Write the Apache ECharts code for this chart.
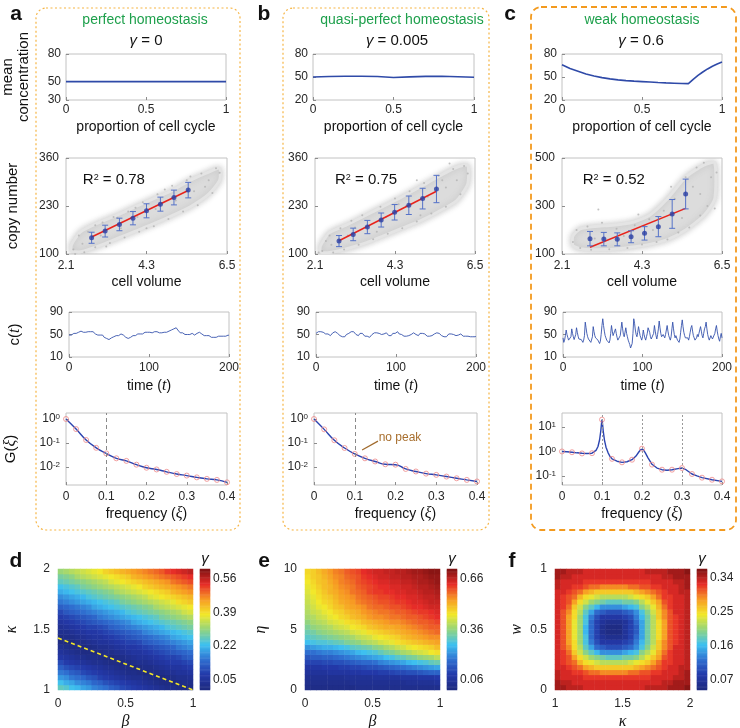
<!DOCTYPE html>
<html><head><meta charset="utf-8">
<script src="https://cdn.jsdelivr.net/npm/echarts@6/dist/echarts.min.js"></script>
<style>html,body{margin:0;padding:0;background:#fff}#c{width:740px;height:728px}</style>
</head><body><div id="c"></div><script>
// ---------------- DATA ----------------
// Row 1: mean concentration over cell cycle
const phaseA = [0, 1];
const meanA = [50, 50];
const phaseB = [0,0.1,0.2,0.3,0.4,0.5,0.6,0.7,0.8,0.9,1];
const meanB = [50,50.6,51,51,50.7,49.4,50.2,50.8,51,50.4,49.6];
const phaseC = [0,0.05,0.1,0.15,0.2,0.25,0.3,0.35,0.4,0.45,0.5,0.55,0.6,0.65,0.7,0.75,0.79,0.82,0.85,0.88,0.91,0.94,0.97,1];
const meanC = [66,61,57.5,54,51.3,49.2,47.6,46.3,45.3,44.6,44,43.4,42.8,42.3,41.9,41.5,41.3,47,52,56.5,60.5,64,67,69.5];

// Row 2: copy number vs cell volume
const volA = [2.80,3.17,3.56,3.93,4.30,4.68,5.05,5.44];
const copyA = [144,162,180,197,217,235,253,273];
const errA = [15,16,17,18,19,19,20,21];
const fitVolA = [2.80,5.44], fitCopyA = [146,272];
const cloudXA = [2.25,2.5,3,3.5,4,4.5,5,5.5,6,6.3];
const cloudLoA = [108,106,122,142,162,182,204,228,262,300];
const cloudHiA = [125,160,185,205,228,250,272,300,322,332];
const dotsA = [[2.3,112],[2.45,150],[2.6,105],[2.7,160],[2.9,118],[3.1,185],[3.3,130],[3.4,200],[3.7,145],[3.8,215],[4.1,160],[4.2,240],[4.5,175],[4.6,262],[4.9,195],[5.0,285],[5.3,215],[5.4,300],[5.7,232],[5.8,318],[6.0,300],[6.2,332],[6.1,265],[2.55,128],[3.05,150],[3.6,170],[4.05,200],[4.55,222],[5.1,245],[5.6,270],[2.35,100],[2.9,178],[3.5,198],[4.3,170],[4.8,275],[5.5,310],[6.3,320],[3.2,120],[4.0,225],[5.9,282]];

const volB = [2.76,3.15,3.54,3.92,4.29,4.68,5.06,5.44];
const copyB = [135,153,173,192,213,232,250,276];
const errB = [15,17,18,19,21,25,28,37];
const fitVolB = [2.76,5.44], fitCopyB = [136,270];
const cloudXB = [2.25,2.5,3,3.5,4,4.5,5,5.5,6,6.3];
const cloudLoB = [105,104,115,130,150,170,190,215,245,290];
const cloudHiB = [122,158,180,205,230,255,282,310,335,340];
const dotsB = [[2.3,108],[2.5,150],[2.6,104],[2.8,170],[2.9,112],[3.1,190],[3.3,125],[3.4,205],[3.7,140],[3.9,228],[4.1,155],[4.3,250],[4.5,170],[4.7,270],[4.9,188],[5.1,292],[5.3,210],[5.5,312],[5.7,228],[5.9,330],[6.1,262],[6.2,338],[6.0,300],[2.55,125],[3.0,150],[3.55,175],[4.05,200],[4.6,230],[5.2,255],[5.7,280],[2.4,135],[3.2,172],[3.8,160],[4.4,235],[5.0,205],[5.6,300],[6.3,318],[2.2,104],[4.9,300],[5.8,345]];

const volC = [2.87,3.25,3.62,4.00,4.37,4.75,5.13,5.50];
const copyC = [164,162,161,172,186,214,267,350];
const errC = [30,28,27,25,28,42,60,62];
const fitVolC = [2.87,5.50], fitCopyC = [128,290];
const cloudXC = [2.4,2.6,3,3.5,4,4.5,5,5.5,6,6.3];
const cloudLoC = [135,122,118,120,128,140,160,200,260,330];
const cloudHiC = [175,205,215,220,230,260,330,420,470,480];
const dotsC = [[2.4,150],[2.5,200],[2.6,125],[2.8,215],[2.9,118],[3.2,230],[3.4,120],[3.6,205],[3.9,125],[4.1,220],[4.3,140],[4.5,245],[4.7,150],[4.9,280],[5.0,160],[5.2,330],[5.3,190],[5.5,420],[5.6,210],[5.8,460],[5.9,260],[6.1,300],[6.3,290],[6.0,480],[5.7,380],[5.4,250],[4.6,200],[3.8,175],[3.0,165],[6.2,420],[3.1,285],[4.2,265],[5.1,380],[5.9,350],[6.35,440]];

// Row 3: concentration time series c(t), t = 0..200
const TA = [49,48,50,49,51,50,52,51,50,52,53,52,54,55,54,56,55,53,54,55,53,54,52,53,55,54,56,55,54,52,55,54,52,51,50,51,49,50,48,49,48,47,49,46,45,44,46,43,42,44,41,43,42,44,45,44,46,47,46,48,47,49,48,50,49,51,50,48,49,47,46,45,44,45,43,44,46,45,47,46,48,47,49,48,50,49,51,50,52,51,50,52,51,53,52,54,53,55,54,56,55,54,56,55,53,54,56,55,54,53,55,54,52,53,54,52,53,51,52,54,53,52,54,53,55,56,55,57,58,57,59,60,61,63,62,60,58,56,55,53,54,52,53,51,52,50,51,52,50,51,49,50,51,50,52,51,50,49,51,50,52,51,53,54,53,52,51,50,49,48,49,47,48,46,47,48,47,46,45,47,46,45,44,46,45,44,46,47,45,46,47,46,48,47,49,48,47,48,47,49,48];
const TB = [52,54,53,55,56,54,55,57,55,54,52,53,51,50,52,51,49,50,48,50,51,53,52,54,55,53,54,52,51,50,48,47,49,46,45,47,46,48,50,49,51,52,54,53,55,54,56,55,53,52,50,51,49,48,50,52,51,53,52,50,49,47,46,45,47,44,46,45,47,48,50,49,51,53,52,54,53,51,50,52,51,49,50,48,49,51,50,52,53,51,50,48,47,49,48,50,52,51,53,52,54,53,55,52,51,50,52,50,49,48,47,46,48,47,45,46,48,47,49,50,52,51,53,54,52,50,51,49,48,50,52,53,51,52,54,53,51,50,49,47,48,46,47,45,47,48,50,49,51,52,54,53,55,54,52,51,50,48,49,47,46,47,45,46,48,49,51,50,52,51,53,52,50,49,47,48,46,47,49,48,50,51,49,48,47,46,48,47,46,48,47,49,48,46,47,45,46,48,47,46,47];
const TC = [44,36,40,48,58,50,45,40,42,38,
46,60,52,46,41,44,50,62,54,47,
42,40,44,41,38,36,40,48,72,62,
52,46,42,45,40,36,38,46,64,55,
48,44,46,42,40,37,34,38,50,66,
78,66,56,48,44,40,43,38,35,40,
52,66,56,48,50,56,60,52,45,40,
38,42,48,60,72,60,50,46,54,62,
52,46,40,36,32,26,24,34,52,78,
70,58,50,46,54,64,56,48,44,40,
46,58,50,44,40,46,52,62,64,54,
46,42,40,44,52,66,56,48,42,50,
60,74,62,52,46,44,50,48,44,50,
58,66,56,48,44,40,46,60,72,60,
50,44,48,46,40,38,36,42,54,66,
76,64,54,48,44,42,46,44,40,46,
54,62,66,56,48,44,40,38,44,50,
46,52,58,64,56,48,44,52,60,64,
72,60,50,44,40,42,48,46,42,40,
44,52,60,66,56,48,42,38,46,52,
44];

// Row 4: power spectrum G(xi)
const freq = [0,0.025,0.05,0.075,0.1,0.125,0.15,0.175,0.2,0.225,0.25,0.275,0.3,0.325,0.35,0.375,0.4];
const GA = [1.0,0.38,0.133,0.063,0.037,0.023,0.018,0.0125,0.0093,0.0079,0.0063,0.0051,0.0044,0.0037,0.0032,0.0029,0.0023];
const GB = [1.0,0.37,0.13,0.062,0.035,0.023,0.017,0.013,0.0125,0.0083,0.0065,0.0053,0.0047,0.0040,0.0034,0.0029,0.0025];
const GC = [1.0,0.93,0.83,0.85,20,0.5,0.36,0.46,1.3,0.29,0.18,0.18,0.21,0.12,0.085,0.07,0.06];
const freqLineC = [0,0.0125,0.025,0.0375,0.05,0.0625,0.075,0.08,0.085,0.09,0.094,0.097,0.099,0.1,0.101,0.103,0.106,0.11,0.115,0.12,0.125,0.1375,0.15,0.1625,0.175,0.185,0.192,0.197,0.2,0.203,0.208,0.215,0.225,0.2375,0.25,0.2625,0.275,0.29,0.3,0.31,0.325,0.3375,0.35,0.375,0.4];
const GLineC = [1.0,0.97,0.93,0.88,0.84,0.82,0.85,0.9,1.1,1.6,3.0,7,15,20,15,7,3,1.5,0.9,0.62,0.5,0.4,0.36,0.38,0.46,0.65,0.95,1.2,1.3,1.2,0.9,0.55,0.3,0.21,0.18,0.17,0.18,0.2,0.21,0.18,0.12,0.1,0.085,0.07,0.06];

// Row 5: gamma maps (values x100) on 24x24 cells, rows bottom->top, columns left->right
const HD = [
[26,25,23,22,20,19,17,16,15,13,12,10,9,8,7,6,5,4,3,2,2,1,0,1],
[23,21,20,18,17,16,14,13,11,10,9,8,7,6,5,4,3,2,1,1,0,1,2,2],
[19,18,16,15,14,12,11,9,8,7,6,5,4,3,3,2,1,0,0,1,2,3,3,4],
[16,15,13,12,10,9,8,7,6,5,4,3,2,2,1,0,1,1,2,3,4,5,5,6],
[13,11,10,9,8,7,6,5,4,3,2,1,1,0,1,2,2,3,4,5,6,6,7,8],
[10,8,7,6,5,4,3,3,2,1,1,0,1,2,3,3,4,5,6,7,8,8,9,10],
[7,6,5,4,3,2,2,1,0,0,1,2,3,4,5,5,6,7,8,9,9,10,12,13],
[5,4,3,2,1,1,0,1,2,2,3,4,5,6,6,7,8,9,10,11,12,13,14,15],
[3,2,1,1,0,1,2,3,3,4,5,6,7,7,8,9,10,11,12,13,14,16,17,18],
[1,0,0,1,2,3,4,5,5,6,7,8,9,9,10,12,13,14,15,16,17,18,19,20],
[1,2,2,3,4,5,6,6,7,8,9,10,11,12,13,14,15,16,17,18,20,21,22,23],
[3,3,4,5,6,7,7,8,9,10,11,12,13,14,15,17,18,19,20,21,22,23,24,25],
[4,5,6,7,8,9,9,10,11,13,14,15,16,17,18,19,20,21,22,24,25,26,27,28],
[6,7,8,9,10,11,12,13,14,15,16,17,18,20,21,22,23,24,25,26,27,28,29,30],
[8,9,10,11,12,13,14,16,17,18,19,20,21,22,23,24,25,26,28,29,30,31,32,33],
[10,12,13,14,15,16,17,18,19,20,21,22,24,25,26,27,28,29,30,31,32,33,35,36],
[13,14,15,16,17,18,20,21,22,23,24,25,26,27,28,29,30,32,33,34,35,36,37,38],
[16,17,18,19,20,21,22,23,24,25,26,28,29,30,31,32,33,34,35,36,37,39,40,41],
[18,19,20,21,22,24,25,26,27,28,29,30,31,32,33,34,36,37,38,39,40,41,42,43],
[21,22,23,24,25,26,27,28,29,30,32,33,34,35,36,37,38,39,40,41,43,44,45,46],
[23,24,25,26,28,29,30,31,32,33,34,35,36,37,38,40,41,42,43,44,45,46,47,48],
[26,27,28,29,30,31,32,33,34,36,37,38,39,40,41,42,43,44,45,46,48,49,50,51],
[28,29,30,32,33,34,35,36,37,38,39,40,41,43,44,45,46,47,48,49,50,51,52,53],
[31,32,33,34,35,36,37,38,40,41,42,43,44,45,46,47,48,49,50,52,53,54,55,56]];
const dLineBeta = [0, 1];
const dLineKappa = [1.43, 1.0];
const HE = [
[2,2,2,2,2,2,2,2,2,3,3,3,3,3,3,3,3,3,3,3,3,3,3,3],
[3,3,3,3,3,3,3,3,4,4,4,4,4,4,4,4,4,4,5,5,5,5,5,6],
[4,4,4,4,4,4,4,5,5,5,5,5,6,6,6,6,6,7,7,7,8,8,8,9],
[6,6,6,6,7,7,7,7,8,8,9,9,9,10,10,11,12,12,13,13,14,15,16,16],
[8,8,8,9,9,9,10,10,11,11,12,13,13,14,15,16,17,18,19,20,21,22,23,24],
[11,11,11,12,12,13,13,14,15,16,17,17,18,20,21,22,23,24,26,27,28,29,31,32],
[14,15,15,16,16,17,18,19,20,21,22,23,24,25,27,28,30,31,33,34,36,37,38,40],
[18,18,19,20,20,21,22,23,24,26,27,28,29,31,33,34,36,38,39,41,42,43,45,46],
[22,23,24,25,25,26,27,28,30,31,32,33,35,36,38,39,41,42,44,45,46,47,48,50],
[27,28,29,29,30,31,32,34,35,36,38,39,40,42,43,44,46,47,48,49,50,51,52,53],
[30,31,32,33,34,35,36,37,38,40,41,42,44,45,46,47,48,50,51,52,53,54,55,55],
[32,33,35,36,37,38,39,40,42,43,44,46,47,48,49,50,51,52,53,54,55,56,57,58],
[34,36,37,38,39,41,42,43,45,46,47,49,50,51,52,52,53,54,55,56,57,58,59,59],
[36,38,39,40,42,43,44,46,47,48,50,51,52,53,54,55,55,56,57,58,59,59,60,61],
[38,39,41,42,44,45,47,48,50,51,52,54,55,55,56,57,57,58,59,59,60,61,62,63],
[39,41,42,44,45,47,48,50,51,52,54,55,56,57,57,58,59,59,60,61,62,62,63,64],
[40,42,44,45,47,49,50,52,53,54,55,57,58,58,59,60,60,61,62,63,63,64,65,65],
[41,43,45,47,48,50,52,53,54,56,57,58,59,60,60,61,62,62,63,64,64,65,66,66],
[42,44,46,48,49,51,53,54,55,57,58,59,60,61,61,62,63,63,64,64,65,66,66,67],
[43,45,47,49,51,52,54,55,57,58,59,61,62,62,63,63,64,64,65,65,66,67,67,68],
[44,46,48,50,51,53,55,56,57,59,60,61,62,63,63,64,64,65,65,66,67,67,68,69],
[45,47,49,50,52,54,56,57,58,60,61,62,63,64,64,65,65,66,66,67,68,68,69,70],
[46,48,49,51,53,55,56,58,59,60,62,63,64,65,65,66,66,67,67,68,68,69,70,70],
[47,48,50,52,54,56,57,59,60,61,63,64,65,65,66,66,67,67,68,69,69,70,71,71]];
const HF = [
[35,35,34,34,34,33,33,33,33,33,33,33,33,33,33,33,34,34,34,34,35,35,35,36],
[35,34,34,33,33,33,33,33,33,33,33,33,33,33,33,33,33,33,33,34,34,35,35,35],
[34,33,33,33,33,32,32,32,32,32,32,32,32,32,32,32,32,33,33,33,33,34,34,35],
[34,33,33,32,32,31,30,30,29,29,29,29,29,30,30,31,31,32,32,33,33,33,34,35],
[33,33,32,31,30,28,27,26,26,26,26,26,26,26,27,28,29,30,31,32,33,33,34,34],
[33,32,31,30,27,25,24,23,22,22,22,22,22,23,24,25,26,28,30,32,32,33,33,34],
[33,32,31,28,25,23,21,20,19,18,18,18,19,19,20,22,24,26,28,31,32,33,33,34],
[33,32,30,26,23,20,18,16,14,14,14,14,15,16,17,20,22,24,27,30,32,33,33,34],
[33,31,29,25,22,18,15,12,11,10,10,10,11,12,14,17,20,23,26,29,31,33,33,34],
[33,31,28,25,21,17,13,10,8,8,8,8,9,10,13,16,19,22,26,29,31,32,33,34],
[33,31,28,24,21,17,12,9,7,6,6,6,7,9,12,15,19,22,25,28,31,32,33,34],
[33,31,28,24,21,16,12,9,6,5,5,5,7,9,11,15,19,22,25,28,31,32,33,34],
[33,31,28,24,21,16,12,9,6,5,5,5,7,9,11,15,19,22,25,28,31,32,33,34],
[33,31,28,24,21,17,12,9,7,6,6,6,7,9,12,15,19,22,25,28,31,32,33,34],
[33,31,28,25,21,17,13,10,8,8,8,8,9,10,13,16,19,22,26,29,31,32,33,34],
[33,31,29,25,22,18,15,12,11,10,10,10,11,12,14,17,20,23,26,29,31,33,33,34],
[33,32,30,26,23,20,18,16,14,14,14,14,15,16,17,20,22,24,27,30,32,33,33,34],
[33,32,31,28,25,23,21,20,19,18,18,18,19,19,20,22,24,26,28,31,32,33,33,34],
[33,32,31,30,27,25,24,23,22,22,22,22,22,23,24,25,26,28,30,32,32,33,33,34],
[33,33,32,31,30,28,27,26,26,26,26,26,26,26,27,28,29,30,31,32,33,33,34,34],
[34,33,33,32,32,31,30,30,29,29,29,29,29,30,30,31,31,32,32,33,33,33,34,35],
[34,33,33,33,33,32,32,32,32,32,32,32,32,32,32,32,32,33,33,33,33,34,34,35],
[35,34,34,33,33,33,33,33,33,33,33,33,33,33,33,33,33,33,33,34,34,35,35,35],
[35,35,34,34,34,33,33,33,33,33,33,33,33,33,33,33,34,34,34,34,35,35,35,36]];
const cbTicksD = [0.05,0.22,0.39,0.56], cbRangeD = [0, 0.607];
const cbTicksE = [0.06,0.36,0.66], cbRangeE = [0, 0.72];
const cbTicksF = [0.07,0.16,0.25,0.34], cbRangeF = [0.044, 0.364];

// ---------------- STYLE / BUILD ----------------
const JET = ['#1e2a7e','#2338a8','#2f6fd0','#3ec0f0','#92d47e','#f2e82a','#f79a23','#e62c28','#7e1212'];
const FONT = "'Liberation Sans', Arial, sans-serif";
const SERIF = "'Liberation Serif', 'DejaVu Serif', serif";
const BLUE = '#2f4aa8';
const SUP = {s: {fontSize: 8, verticalAlign: 'top', fontFamily: FONT}};
const NRICH = {i: {fontStyle: 'italic', fontFamily: SERIF, fontSize: 16}};

const grids = [], xAxes = [], yAxes = [], series = [], visualMaps = [];
function addGrid(g) {
  grids.push(Object.assign({show: true, borderColor: '#c2c2c2', borderWidth: 1, outerBoundsMode: 'none', containLabel: false}, g));
  return grids.length - 1;
}
function axis(gi, min, max, ticks, o) {
  o = o || {};
  const a = {
    type: o.type || 'value', gridIndex: gi, min: min, max: max,
    axisLine: {show: false},
    axisTick: {show: o.tick !== false, inside: true, length: 3, lineStyle: {color: '#8c8c8c'}, customValues: ticks},
    axisLabel: {show: o.label !== false, customValues: ticks, fontSize: 12, color: '#262626', fontFamily: FONT, margin: o.margin != null ? o.margin : 5, rich: SUP},
    splitLine: {show: false},
    name: o.name || '', nameLocation: 'middle', nameGap: o.gap || 20, nameMoveOverlap: false,
    nameTextStyle: {fontSize: o.nameSize || 14, color: '#111', fontFamily: FONT, rich: NRICH, lineHeight: o.lh}
  };
  if (o.fmt) a.axisLabel.formatter = o.fmt;
  if (o.rot != null) a.nameRotate = o.rot;
  if (o.position) a.position = o.position;
  if (o.type === 'log') a.logBase = 10;
  return a;
}
function addX(a) { xAxes.push(a); return xAxes.length - 1; }
function addY(a) { yAxes.push(a); return yAxes.length - 1; }
const zip = (xs, ys) => xs.map((x, i) => [x, ys[i]]);
const logFmt = v => '10{s|' + Math.round(Math.log10(v)) + '}';

const colL = [66, 313, 562];
// Row 1
[[phaseA, meanA, [30,50,80]], [phaseB, meanB, [20,50,80]], [phaseC, meanC, [20,50,80]]].forEach((d, k) => {
  const gi = addGrid({left: colL[k], top: 54, width: k === 1 ? 161 : 160, height: 46});
  const xi = addX(axis(gi, 0, 1, [0, 0.5, 1], {name: 'proportion of cell cycle', gap: 20, margin: 4, position: 'bottom'}));
  const yi = addY(axis(gi, d[2][0], 80, d[2], k === 0 ? {name: 'mean\nconcentration', gap: 34, nameSize: 15, lh: 16, rot: 90, position: 'left'} : {position: 'left'}));
  series.push({type: 'line', xAxisIndex: xi, yAxisIndex: yi, data: zip(d[0], d[1]), symbol: 'none', lineStyle: {color: BLUE, width: 1.6}, silent: true});
});

// Row 2
const row2 = [
  {L: 66, W: 161, vol: volA, copy: copyA, err: errA, fv: fitVolA, fc: fitCopyA, cx: cloudXA, lo: cloudLoA, hi: cloudHiA, dots: dotsA, yt: [100,230,360], r2: '0.78', r2pos: [2.56, 300]},
  {L: 315, W: 160, vol: volB, copy: copyB, err: errB, fv: fitVolB, fc: fitCopyB, cx: cloudXB, lo: cloudLoB, hi: cloudHiB, dots: dotsB, yt: [100,230,360], r2: '0.75', r2pos: [2.65, 300]},
  {L: 562, W: 160, vol: volC, copy: copyC, err: errC, fv: fitVolC, fc: fitCopyC, cx: cloudXC, lo: cloudLoC, hi: cloudHiC, dots: dotsC, yt: [100,300,500], r2: '0.52', r2pos: [2.67, 408]}
];
row2.forEach((p, k) => {
  const gi = addGrid({left: p.L, top: 158, width: p.W, height: 96});
  const xi = addX(axis(gi, 2.1, 6.5, [2.1, 4.3, 6.5], {name: 'cell volume', gap: 21, margin: 6, position: 'bottom'}));
  const yi = addY(axis(gi, p.yt[0], p.yt[2], p.yt, k === 0 ? {name: 'copy number', gap: 46, nameSize: 15, margin: 7, rot: 90, position: 'left'} : {margin: 7, position: 'left'}));
  series.push({type: 'custom', xAxisIndex: xi, yAxisIndex: yi, z: 1, silent: true, clip: true,
    data: p.cx.map((x, i) => [x, p.lo[i], p.hi[i]]), encode: {x: 0, y: [1, 2]},
    renderItem: (params, api) => {
      if (params.dataIndex !== 0) return null;
      const pts = [];
      p.cx.forEach((x, i) => pts.push(api.coord([x, p.hi[i]])));
      for (let i = p.cx.length - 1; i >= 0; i--) pts.push(api.coord([p.cx[i], p.lo[i]]));
      return {type: 'polygon', shape: {points: pts, smooth: 0.2}, style: {fill: '#dcdcdc', stroke: '#e4e4e4', lineWidth: 3, shadowBlur: 6, shadowColor: 'rgba(190,190,190,0.9)'}};
    }});
  series.push({type: 'scatter', xAxisIndex: xi, yAxisIndex: yi, z: 2, silent: true, data: p.dots, symbolSize: 2, itemStyle: {color: '#b3b3b3'}});
  series.push({type: 'line', xAxisIndex: xi, yAxisIndex: yi, z: 3, silent: true, data: zip(p.fv, p.fc), symbol: 'none', lineStyle: {color: '#e8231b', width: 1.5}});
  series.push({type: 'custom', xAxisIndex: xi, yAxisIndex: yi, z: 4, silent: true,
    data: p.vol.map((v, i) => [v, p.copy[i] - p.err[i], p.copy[i] + p.err[i]]), encode: {x: 0, y: [1, 2]},
    renderItem: (params, api) => {
      const x = api.value(0);
      const lo = api.coord([x, api.value(1)]), hi = api.coord([x, api.value(2)]);
      const st = {stroke: '#5572c8', lineWidth: 1};
      return {type: 'group', children: [
        {type: 'line', shape: {x1: lo[0], y1: lo[1], x2: hi[0], y2: hi[1]}, style: st},
        {type: 'line', shape: {x1: lo[0] - 3, y1: lo[1], x2: lo[0] + 3, y2: lo[1]}, style: st},
        {type: 'line', shape: {x1: hi[0] - 3, y1: hi[1], x2: hi[0] + 3, y2: hi[1]}, style: st}
      ]};
    }});
  series.push({type: 'scatter', xAxisIndex: xi, yAxisIndex: yi, z: 5, silent: true, data: zip(p.vol, p.copy), symbolSize: 5, itemStyle: {color: '#2a3fa3'},
    markPoint: {symbol: 'circle', symbolSize: 0, silent: true, data: [{coord: p.r2pos, label: {show: true, position: 'right', distance: 0, formatter: 'R{s|2} = ' + p.r2, fontSize: 15, color: '#111', fontFamily: FONT, rich: {s: {fontSize: 9, verticalAlign: 'top', fontFamily: FONT}}}}]}});
});

// Row 3
[[TA, 69, 160], [TB, 316, 160], [TC, 563, 159]].forEach((d, k) => {
  const gi = addGrid({left: d[1], top: 312, width: d[2], height: 45});
  const xi = addX(axis(gi, 0, 200, [0, 100, 200], {name: 'time ({i|t})', gap: 21, margin: 5, position: 'bottom'}));
  const yi = addY(axis(gi, 10, 90, [10, 50, 90], k === 0 ? {name: 'c({i|t})', gap: 46, nameSize: 15, margin: 6, rot: 90, position: 'left'} : {margin: 6, position: 'left'}));
  series.push({type: 'line', xAxisIndex: xi, yAxisIndex: yi, data: d[0].map((v, i) => [i, v]), symbol: 'none', lineStyle: {color: '#3552ad', width: 0.9}, silent: true});
});

// Row 4
const row4 = [
  {L: 66, W: 161, G: GA, min: 0.00178, max: 1.778, t: [0.01, 0.1, 1]},
  {L: 314, W: 163, G: GB, min: 0.00178, max: 1.778, t: [0.01, 0.1, 1]},
  {L: 562, W: 160, G: GC, min: 0.0427, max: 37.2, t: [0.1, 1, 10]}
];
row4.forEach((p, k) => {
  const gi = addGrid({left: p.L, top: 413, width: p.W, height: 72});
  const xi = addX(axis(gi, 0, 0.4, [0, 0.1, 0.2, 0.3, 0.4], {name: 'frequency ({i|ξ})', gap: 21, margin: 6, position: 'bottom'}));
  const yi = addY(axis(gi, p.min, p.max, p.t, Object.assign({type: 'log', fmt: logFmt, margin: 6, position: 'left'}, k === 0 ? {name: 'G({i|ξ})', gap: 47, nameSize: 15, rot: 90} : {})));
  const lineData = k === 2 ? zip(freqLineC, GLineC) : zip(freq, p.G);
  const blue = {type: 'line', xAxisIndex: xi, yAxisIndex: yi, z: 3, silent: true, data: lineData, symbol: 'none', smooth: k === 2 ? false : true, lineStyle: {color: '#2b44b0', width: 1.4}};
  if (k === 1) {
    blue.markLine = {silent: true, symbol: ['none', 'arrow'], symbolSize: [0, 7], lineStyle: {color: '#a06a2c', width: 1.2, type: 'solid'}, label: {show: false},
      data: [[{coord: [0.157, 0.12]}, {coord: [0.118, 0.051]}]]};
    blue.markPoint = {symbol: 'circle', symbolSize: 0, silent: true, data: [{coord: [0.211, 0.16], label: {show: true, position: 'inside', formatter: 'no peak', color: '#a86f2e', fontSize: 12, fontFamily: FONT}}]};
  }
  series.push(blue);
  const ml = k === 2
    ? {silent: true, symbol: 'none', label: {show: false}, lineStyle: {color: '#9a9a9a', type: [2, 2], width: 1}, data: [{xAxis: 0.1}, {xAxis: 0.2}, {xAxis: 0.3}]}
    : {silent: true, symbol: 'none', label: {show: false}, lineStyle: {color: '#8a8a8a', type: [4, 3], width: 1}, data: [{xAxis: 0.1}]};
  series.push({type: 'scatter', xAxisIndex: xi, yAxisIndex: yi, z: 4, silent: true, data: zip(freq, p.G), symbol: 'circle', symbolSize: 5,
    itemStyle: {color: 'rgba(0,0,0,0)', borderColor: '#ef8a8a', borderWidth: 1}, markLine: ml});
});

// Row 5: heatmaps
const idx24 = [...Array(24).keys()];
const idx100 = [...Array(100).keys()];
const heat = [
  {L: 58, cb: 200, H: HD, xr: [0, 1], xt: [0, 0.5, 1], yr: [1, 2], yt: [1, 1.5, 2], xn: 'β', yn: 'κ', ygap: 38, cbt: cbTicksD, cbr: cbRangeD},
  {L: 305, cb: 447, H: HE, xr: [0, 1], xt: [0, 0.5, 1], yr: [0, 10], yt: [0, 5, 10], xn: 'β', yn: 'η', ygap: 36, cbt: cbTicksE, cbr: cbRangeE},
  {L: 555, cb: 697, H: HF, xr: [1, 2], xt: [1, 1.5, 2], yr: [0, 1], yt: [0, 0.5, 1], xn: 'κ', yn: 'w', ygap: 30, cbt: cbTicksF, cbr: cbRangeF}
];
heat.forEach((p, k) => {
  const gi = addGrid({left: p.L, top: 569, width: 135, height: 121, show: false});
  const xc = addX({type: 'category', gridIndex: gi, data: idx24, show: false, position: 'top'});
  const yc = addY({type: 'category', gridIndex: gi, data: idx24, show: false, position: 'right'});
  const xv = addX(axis(gi, p.xr[0], p.xr[1], p.xt, {name: p.xn, gap: 24, margin: 8, tick: false, nameSize: 16, position: 'bottom'}));
  const yv = addY(axis(gi, p.yr[0], p.yr[1], p.yt, {name: p.yn, gap: p.ygap, margin: 8, tick: false, nameSize: 16, rot: 90, position: 'left'}));
  xAxes[xv].nameTextStyle.fontStyle = 'italic'; xAxes[xv].nameTextStyle.fontFamily = SERIF;
  yAxes[yv].nameTextStyle.fontStyle = 'italic'; yAxes[yv].nameTextStyle.fontFamily = SERIF;
  const data = [];
  p.H.forEach((row, j) => row.forEach((v, i) => data.push([i, j, v / 100])));
  const sHeat = series.length;
  series.push({type: 'heatmap', xAxisIndex: xc, yAxisIndex: yc, data: data, silent: true, progressive: 0, emphasis: {disabled: true}});
  if (k === 0) {
    series.push({type: 'line', xAxisIndex: xv, yAxisIndex: yv, z: 5, silent: true, data: zip(dLineBeta, dLineKappa), symbol: 'none', lineStyle: {color: '#f4e826', width: 1.6, type: [4, 3]}});
  }
  // colour bar
  const cg = addGrid({left: p.cb, top: 569, width: 10, height: 121, show: false});
  const cx = addX({type: 'category', gridIndex: cg, data: [0], show: false, position: 'bottom'});
  const cy = addY({type: 'category', gridIndex: cg, data: idx100, show: false, position: 'left'});
  addY(axis(cg, p.cbr[0], p.cbr[1], p.cbt, {position: 'right', tick: false, margin: 3, fmt: v => v.toFixed(2)}));
  const sCb = series.length;
  series.push({type: 'heatmap', xAxisIndex: cx, yAxisIndex: cy, silent: true, progressive: 0, emphasis: {disabled: true},
    data: idx100.map(i => [0, i, p.cbr[0] + (i + 0.5) / 100 * (p.cbr[1] - p.cbr[0])])});
  visualMaps.push({type: 'continuous', show: false, min: p.cbr[0], max: p.cbr[1], seriesIndex: [sHeat, sCb], dimension: 2, inRange: {color: JET}});
});

// ---------------- DECORATION ----------------
const txt = (x, y, text, o) => ({type: 'text', x: x, y: y, silent: true, style: Object.assign({text: text, fontFamily: FONT, fontSize: 14, fill: '#111', align: 'center', verticalAlign: 'middle'}, o || {})});
const GREEN = '#1ea04c';
const graphics = [
  {type: 'rect', silent: true, shape: {x: 36, y: 8, width: 204, height: 522, r: 10}, style: {fill: 'none', stroke: '#f6b545', lineWidth: 1.2, lineDash: [2, 2.5]}},
  {type: 'rect', silent: true, shape: {x: 283, y: 8, width: 206, height: 522, r: 10}, style: {fill: 'none', stroke: '#f6b545', lineWidth: 1.2, lineDash: [2, 2.5]}},
  {type: 'rect', silent: true, shape: {x: 531, y: 7, width: 205, height: 523, r: 10}, style: {fill: 'none', stroke: '#f39a1e', lineWidth: 1.8, lineDash: [6, 4]}},
  txt(16, 14, 'a', {fontSize: 21, fontWeight: 'bold'}),
  txt(264, 14, 'b', {fontSize: 21, fontWeight: 'bold'}),
  txt(510, 14, 'c', {fontSize: 21, fontWeight: 'bold'}),
  txt(16, 561, 'd', {fontSize: 21, fontWeight: 'bold'}),
  txt(264, 561, 'e', {fontSize: 21, fontWeight: 'bold'}),
  txt(512, 561, 'f', {fontSize: 21, fontWeight: 'bold'}),
  txt(145, 20, 'perfect homeostasis', {fill: GREEN}),
  txt(402, 20, 'quasi-perfect homeostasis', {fill: GREEN}),
  txt(642, 20, 'weak homeostasis', {fill: GREEN}),
  txt(146, 41, '{g|γ} = 0', {fontSize: 15, rich: {g: {fontStyle: 'italic', fontSize: 15, fontFamily: FONT}}}),
  txt(397, 41, '{g|γ} = 0.005', {fontSize: 15, rich: {g: {fontStyle: 'italic', fontSize: 15, fontFamily: FONT}}}),
  txt(641, 41, '{g|γ} = 0.6', {fontSize: 15, rich: {g: {fontStyle: 'italic', fontSize: 15, fontFamily: FONT}}}),
  txt(205, 559, 'γ', {fontStyle: 'italic', fontSize: 15}),
  txt(452, 559, 'γ', {fontStyle: 'italic', fontSize: 15}),
  txt(702, 559, 'γ', {fontStyle: 'italic', fontSize: 15})
];

const chart = echarts.init(document.getElementById('c'), null, {renderer: 'canvas'});
chart.setOption({
  animation: false,
  backgroundColor: '#fff',
  textStyle: {fontFamily: FONT},
  grid: grids, xAxis: xAxes, yAxis: yAxes, series: series, visualMap: visualMaps,
  graphic: graphics
});
</script></body></html>
